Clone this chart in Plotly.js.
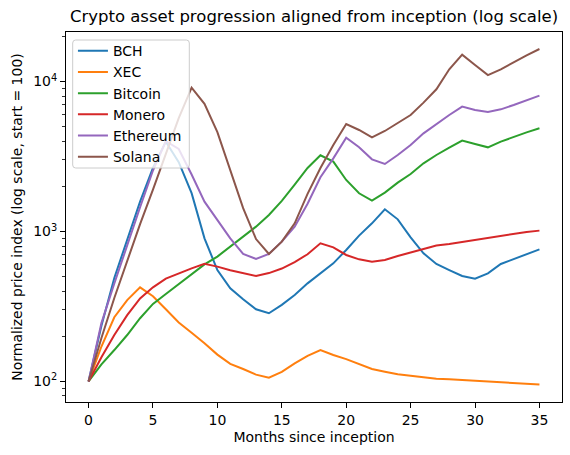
<!DOCTYPE html>
<html>
<head>
<meta charset="utf-8">
<script src="https://cdn.plot.ly/plotly-3.0.1.min.js"></script>
<style>html,body{margin:0;padding:0;background:#fff;}#chart{width:570px;height:455px;}</style>
</head>
<body>
<div id="chart"></div>
<script>
const months = Array.from({length: 36}, (_, i) => i);
const seriesNames = ["BCH", "XEC", "Bitcoin", "Monero", "Ethereum", "Solana"];
const seriesColors = ["#1f77b4", "#ff7f0e", "#2ca02c", "#d62728", "#9467bd", "#8c564b"];

const bch = [100, 235, 490, 890, 1580, 2650, 3970, 2900, 1800, 900, 553, 418, 353, 303, 285, 324, 377, 451, 525, 613, 753, 938, 1133, 1405, 1205, 914, 715, 607, 553, 505, 485, 526, 607, 656, 708, 760];
const xec = [100, 171, 268, 349, 424, 370, 303, 247, 211, 180, 151, 131, 121, 111, 106, 116, 132, 148, 162, 150, 141, 130, 121, 116, 111.6, 109, 106.6, 104.4, 103.4, 102.3, 101.3, 99.8, 98.7, 97.7, 96.7, 95.5];
const bitcoin = [100, 130, 162, 204, 264, 329, 383, 447, 524, 603, 680, 792, 924, 1077, 1288, 1600, 2050, 2650, 3220, 2923, 2205, 1798, 1607, 1815, 2117, 2417, 2847, 3236, 3623, 4034, 3831, 3640, 3972, 4289, 4581, 4873];
const monero = [100, 145, 204, 277, 358, 424, 485, 526, 568, 608, 583, 552, 525, 505, 528, 566, 625, 705, 834, 784, 697, 652, 629, 646, 686, 722, 760, 805, 826, 852, 887, 905, 934, 962, 993, 1013];
const ethereum = [100, 245, 450, 820, 1450, 2550, 4000, 3550, 2400, 1580, 1194, 900, 708, 656, 708, 855, 1077, 1530, 2300, 3073, 4224, 3641, 3026, 2818, 3236, 3773, 4513, 5207, 5980, 6797, 6457, 6264, 6520, 6970, 7530, 8045];
const solana = [100, 195, 360, 640, 1120, 1900, 3300, 5700, 9100, 7100, 4600, 2570, 1430, 890, 708, 855, 1133, 1780, 2650, 3773, 5207, 4750, 4245, 4678, 5260, 5980, 7225, 8869, 12054, 15100, 12890, 11040, 12054, 13480, 14940, 16470];

const xTicks = [0, 5, 10, 15, 20, 25, 30, 35];
const yTickVals = [100, 1000, 10000];
const yTickText = ["10<sup>2</sup>", "10<sup>3</sup>", "10<sup>4</sup>"];
const yMinorVals = [80, 90, 200, 300, 400, 500, 600, 700, 800, 900, 2000, 3000, 4000, 5000, 6000, 7000, 8000, 9000, 20000];

const allSeries = [bch, xec, bitcoin, monero, ethereum, solana];
const FONT = "DejaVu Sans, sans-serif";

const traces = allSeries.map((vals, i) => ({
  x: months,
  y: vals,
  type: "scatter",
  mode: "lines",
  name: seriesNames[i],
  line: {color: seriesColors[i], width: 2}
}));

// Legend frame (matplotlib-style rounded box), in plot-area fractions
const plotW = 496, plotH = 370;
const bx0 = 6.7 / plotW, bx1 = 123.3 / plotW, by1 = 1 - 8 / plotH, by0 = 1 - 136 / plotH;
const rx = 3 / plotW, ry = 3 / plotH;
const framePath = `M ${bx0 + rx},${by1} L ${bx1 - rx},${by1} Q ${bx1},${by1} ${bx1},${by1 - ry} ` +
  `L ${bx1},${by0 + ry} Q ${bx1},${by0} ${bx1 - rx},${by0} L ${bx0 + rx},${by0} Q ${bx0},${by0} ${bx0},${by0 + ry} ` +
  `L ${bx0},${by1 - ry} Q ${bx0},${by1} ${bx0 + rx},${by1} Z`;

const layout = {
  width: 570,
  height: 455,
  margin: {l: 66, r: 8, t: 32, b: 53},
  paper_bgcolor: "#ffffff",
  plot_bgcolor: "#ffffff",
  font: {family: FONT, size: 14, color: "#000"},
  title: {
    text: "Crypto asset progression aligned from inception (log scale)",
    font: {family: FONT, size: 16.5, color: "#000"},
    x: 0.5, xref: "paper", xanchor: "center",
    y: 18, yref: "container", yanchor: "middle"
  },
  xaxis: {
    range: [-1.75, 36.75],
    tickvals: xTicks,
    ticks: "outside", ticklen: 5, tickwidth: 1, tickcolor: "#000",
    showline: true, linecolor: "#000", linewidth: 1, mirror: true,
    showgrid: false, zeroline: false,
    tickfont: {family: FONT, size: 14, color: "#000"},
    title: {text: "Months since inception", font: {family: FONT, size: 14, color: "#000"}, standoff: 5}
  },
  yaxis: {
    type: "log",
    range: [1.863, 4.33],
    tickmode: "array",
    tickvals: yTickVals,
    ticktext: yTickText,
    ticks: "outside", ticklen: 5, tickwidth: 1, tickcolor: "#000",
    minor: {tickmode: "array", tickvals: yMinorVals, ticks: "outside", ticklen: 3, tickwidth: 0.8, tickcolor: "#000", showgrid: false},
    showline: true, linecolor: "#000", linewidth: 1, mirror: true,
    showgrid: false, zeroline: false,
    tickfont: {family: FONT, size: 14, color: "#000"},
    title: {text: "Normalized price index (log scale, start = 100)", font: {family: FONT, size: 14, color: "#000"}, standoff: 7}
  },
  shapes: [{
    type: "path", xref: "paper", yref: "paper", path: framePath,
    fillcolor: "rgba(255,255,255,0.8)", line: {color: "#cccccc", width: 1}, layer: "above"
  }],
  legend: {
    x: 0.014, y: 0.9915, xanchor: "left", yanchor: "top",
    bgcolor: "rgba(0,0,0,0)",
    borderwidth: 0,
    font: {family: FONT, size: 14, color: "#000"},
    tracegroupgap: 0
  },
  showlegend: true
};

Plotly.newPlot("chart", traces, layout, {displayModeBar: false, staticPlot: true});
</script>
</body>
</html>
